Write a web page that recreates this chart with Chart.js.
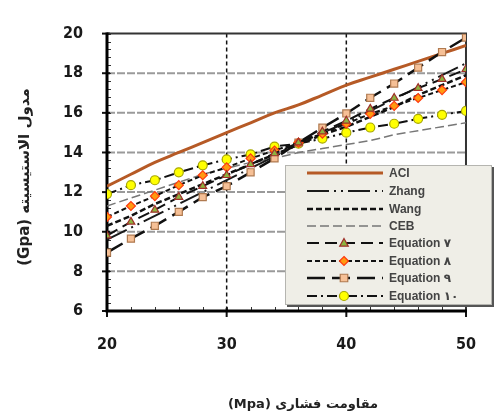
<!DOCTYPE html>
<html>
<head>
<meta charset="utf-8">
<script src="https://cdn.jsdelivr.net/npm/chart.js@4.4.1/dist/chart.umd.min.js"></script>
<style>
  html, body { margin: 0; padding: 0; background: #fff; }
  #wrap { width: 500px; height: 419px; }
</style>
</head>
<body>
<div id="wrap"><canvas id="modulusChart" width="500" height="419"></canvas></div>
<script>
// compressive strength (MPa) at each sampled point
const strength = [20, 22, 24, 26, 28, 30, 32, 34, 36, 38, 40, 42, 44, 46, 48, 50];

// elastic modulus (GPa)
const aci   = [12.3, 12.9, 13.5, 14.0, 14.5, 15.0, 15.5, 16.0, 16.4, 16.9, 17.4, 17.8, 18.2, 18.6, 19.0, 19.4];
const zhang = [9.6, 10.2, 10.8, 11.4, 12.0, 12.6, 13.2, 13.8, 14.4, 15.0, 15.5, 16.1, 16.7, 17.3, 17.9, 18.5];
const wang  = [10.3, 10.8, 11.4, 11.9, 12.4, 12.9, 13.4, 13.9, 14.4, 14.9, 15.3, 15.8, 16.3, 16.9, 17.4, 17.9];
const ceb   = [11.3, 11.7, 12.1, 12.5, 12.9, 13.2, 13.5, 13.7, 14.0, 14.2, 14.4, 14.6, 14.9, 15.1, 15.3, 15.5];
const eq7   = [9.8, 10.5, 11.1, 11.75, 12.3, 12.85, 13.4, 13.95, 14.5, 15.05, 15.6, 16.2, 16.75, 17.25, 17.7, 18.2];
const eq8   = [10.75, 11.3, 11.8, 12.35, 12.85, 13.25, 13.7, 14.1, 14.5, 14.95, 15.45, 15.95, 16.35, 16.75, 17.15, 17.55];
const eq9   = [8.95, 9.65, 10.3, 11.0, 11.75, 12.3, 13.0, 13.7, 14.5, 15.25, 15.97, 16.76, 17.48, 18.28, 19.07, 19.8];
const eq10  = [11.9, 12.35, 12.6, 13.0, 13.35, 13.65, 13.9, 14.3, 14.45, 14.7, 15.0, 15.26, 15.45, 15.7, 15.9, 16.1];

const seriesNames = ['ACI', 'Zhang', 'Wang', 'CEB', 'Equation ۷', 'Equation ۸', 'Equation ۹', 'Equation ۱۰'];
const yTicks = [6, 8, 10, 12, 14, 16, 18, 20];
const xTicks = [20, 30, 40, 50];
const xTitle = '(Mpa) مقاومت فشاری';
const yTitle = '(Gpa) مدول الاستیسیته';

const tickFont = { family: "'Liberation Sans Narrow', 'DejaVu Sans Condensed', Arial, sans-serif", size: 16, weight: 'bold' };

function pts(arr) {
    return strength.map((x, i) => ({ x: x, y: arr[i] }));
}

const styles = [
    { color: '#b65a26', width: 3, dash: [], point: false },
    { color: '#1a1a1a', width: 2, dash: [22, 5, 2, 5, 2, 5], point: false },
    { color: '#111', width: 2.5, dash: [6, 3], point: false },
    { color: '#777', width: 1.5, dash: [9, 4], point: false },
    { color: '#111', width: 2, dash: [12, 6], point: 'triangle', fill: '#8db33f', edge: '#a0302a', r: 4.5 },
    { color: '#111', width: 2, dash: [5, 3], point: 'rectRot', fill: '#ff9a10', edge: '#ff3a10', r: 4.5 },
    { color: '#111', width: 2.5, dash: [18, 7], point: 'rect', fill: '#f6c096', edge: '#b07a50', r: 5 },
    { color: '#111', width: 2, dash: [10, 4, 2, 4], point: 'circle', fill: '#ffff00', edge: '#a8a800', r: 4.5 }
];
const values = [aci, zhang, wang, ceb, eq7, eq8, eq9, eq10];

const datasets = values.map((arr, i) => {
    const s = styles[i];
    return {
        label: seriesNames[i],
        data: pts(arr),
        borderColor: s.color,
        borderWidth: s.width,
        borderDash: s.dash,
        tension: i === 0 ? 0.4 : 0,
        pointStyle: s.point || 'circle',
        pointRadius: s.point ? s.r : 0,
        pointHoverRadius: s.point ? s.r : 0,
        pointBackgroundColor: s.fill,
        pointBorderColor: s.edge,
        pointBorderWidth: 1.2,
        order: s.point ? 0 : 1
    };
});

function drawMarker(ctx, style, x, y, r, fill, edge) {
    ctx.save();
    ctx.setLineDash([]);
    ctx.fillStyle = fill;
    ctx.strokeStyle = edge;
    ctx.lineWidth = 1.2;
    ctx.beginPath();
    if (style === 'triangle') {
        ctx.moveTo(x, y - r);
        ctx.lineTo(x + r * 0.95, y + r * 0.7);
        ctx.lineTo(x - r * 0.95, y + r * 0.7);
        ctx.closePath();
    } else if (style === 'rectRot') {
        ctx.moveTo(x, y - r);
        ctx.lineTo(x + r, y);
        ctx.lineTo(x, y + r);
        ctx.lineTo(x - r, y);
        ctx.closePath();
    } else if (style === 'rect') {
        ctx.rect(x - r * 0.75, y - r * 0.75, r * 1.5, r * 1.5);
    } else {
        ctx.arc(x, y, r, 0, Math.PI * 2);
    }
    ctx.fill();
    ctx.stroke();
    ctx.restore();
}

// grid, frame, minor ticks, axis titles and the boxed legend
const framePlugin = {
    id: 'frame',
    beforeDatasetsDraw(chart) {
        const { ctx, chartArea: a, scales: { x, y } } = chart;
        ctx.save();
        ctx.lineWidth = 2;
        ctx.strokeStyle = '#9a9a9a';
        ctx.setLineDash([8, 2]);
        yTicks.slice(1, -1).forEach(v => {
            const py = y.getPixelForValue(v);
            ctx.beginPath();
            ctx.moveTo(a.left, py);
            ctx.lineTo(a.right, py);
            ctx.stroke();
        });
        ctx.lineWidth = 1.5;
        ctx.strokeStyle = '#111';
        ctx.setLineDash([4, 3]);
        xTicks.slice(1, -1).forEach(v => {
            const px = x.getPixelForValue(v);
            ctx.beginPath();
            ctx.moveTo(px, a.top);
            ctx.lineTo(px, a.bottom);
            ctx.stroke();
        });
        ctx.setLineDash([]);

        // minor ticks
        ctx.lineWidth = 1;
        ctx.strokeStyle = '#333';
        for (let v = 6.4; v < 20; v += 0.4) {
            const py = Math.round(y.getPixelForValue(v)) + 0.5;
            ctx.beginPath();
            ctx.moveTo(a.left, py);
            ctx.lineTo(a.left + 4, py);
            ctx.stroke();
        }
        for (let v = 22; v < 50; v += 2) {
            const px = Math.round(x.getPixelForValue(v)) + 0.5;
            ctx.beginPath();
            ctx.moveTo(px, a.bottom);
            ctx.lineTo(px, a.bottom - 4);
            ctx.stroke();
        }
        // major ticks
        ctx.lineWidth = 2;
        ctx.strokeStyle = '#111';
        yTicks.forEach(v => {
            const py = y.getPixelForValue(v);
            ctx.beginPath();
            ctx.moveTo(a.left - 5, py);
            ctx.lineTo(a.left + 3, py);
            ctx.stroke();
        });
        xTicks.forEach(v => {
            const px = x.getPixelForValue(v);
            ctx.beginPath();
            ctx.moveTo(px, a.bottom + 6);
            ctx.lineTo(px, a.bottom - 3);
            ctx.stroke();
        });

        // frame
        ctx.strokeStyle = '#333';
        ctx.lineWidth = 2;
        ctx.beginPath();
        ctx.moveTo(a.left, a.top);
        ctx.lineTo(a.right, a.top);
        ctx.lineTo(a.right, a.bottom);
        ctx.stroke();
        ctx.strokeStyle = '#000';
        ctx.lineWidth = 3;
        ctx.beginPath();
        ctx.moveTo(a.left, a.top - 1);
        ctx.lineTo(a.left, a.bottom);
        ctx.lineTo(a.right + 1, a.bottom);
        ctx.stroke();

        // axis titles
        ctx.fillStyle = '#222';
        ctx.textAlign = 'center';
        ctx.textBaseline = 'middle';
        ctx.font = "bold 13px 'DejaVu Sans', sans-serif";
        ctx.fillText(xTitle, 303, 405);
        ctx.translate(25, 177);
        ctx.rotate(-Math.PI / 2);
        ctx.font = "bold 15px 'DejaVu Sans', sans-serif";
        ctx.fillText(yTitle, 0, 0);
        ctx.restore();
    },
    afterDraw(chart) {
        const ctx = chart.ctx;
        const bx = 285, by = 165, bw = 207, bh = 140;
        ctx.save();
        ctx.fillStyle = '#555';
        ctx.fillRect(bx + 2, by + 2, bw, bh);
        ctx.fillStyle = '#efeee7';
        ctx.fillRect(bx, by, bw, bh);
        ctx.strokeStyle = '#b5b5b0';
        ctx.lineWidth = 1;
        ctx.strokeRect(bx + 0.5, by + 0.5, bw - 1, bh - 1);

        const rows = [173, 191, 209, 226, 243, 261, 278, 296];
        ctx.font = "bold 12px 'Liberation Sans', Arial, 'DejaVu Sans', sans-serif";
        ctx.textBaseline = 'middle';
        rows.forEach((ry, i) => {
            const s = styles[i];
            ctx.strokeStyle = s.color;
            ctx.lineWidth = s.width;
            ctx.setLineDash(s.dash);
            ctx.beginPath();
            ctx.moveTo(307, ry);
            ctx.lineTo(383, ry);
            ctx.stroke();
            ctx.setLineDash([]);
            if (s.point) {
                drawMarker(ctx, s.point, 344, ry, s.r, s.fill, s.edge);
            }
            ctx.fillStyle = '#444';
            ctx.fillText(seriesNames[i], 389, ry + 1);
        });
        ctx.restore();
    }
};

const ctx = document.getElementById('modulusChart').getContext('2d');
const modulusChart = new Chart(ctx, {
    type: 'line',
    data: { datasets: datasets },
    options: {
        responsive: false,
        animation: false,
        devicePixelRatio: 1,
        layout: { padding: { top: 19, right: 6, left: 0, bottom: 0 } },
        plugins: {
            legend: { display: false },
            tooltip: { enabled: false }
        },
        scales: {
            x: {
                type: 'linear',
                min: 20,
                max: 50,
                afterBuildTicks: s => { s.ticks = xTicks.map(v => ({ value: v })); },
                afterFit: s => { s.height = 108; },
                grid: { display: false, drawTicks: false },
                border: { display: false },
                ticks: { font: tickFont, color: '#1a1a1a', padding: 24, maxRotation: 0 }
            },
            y: {
                min: 6,
                max: 20,
                afterBuildTicks: s => { s.ticks = yTicks.map(v => ({ value: v })); },
                afterFit: s => { s.width = 107; },
                grid: { display: false, drawTicks: false },
                border: { display: false },
                ticks: { font: tickFont, color: '#1a1a1a', padding: 24 }
            }
        }
    },
    plugins: [framePlugin]
});
</script>
</body>
</html>
